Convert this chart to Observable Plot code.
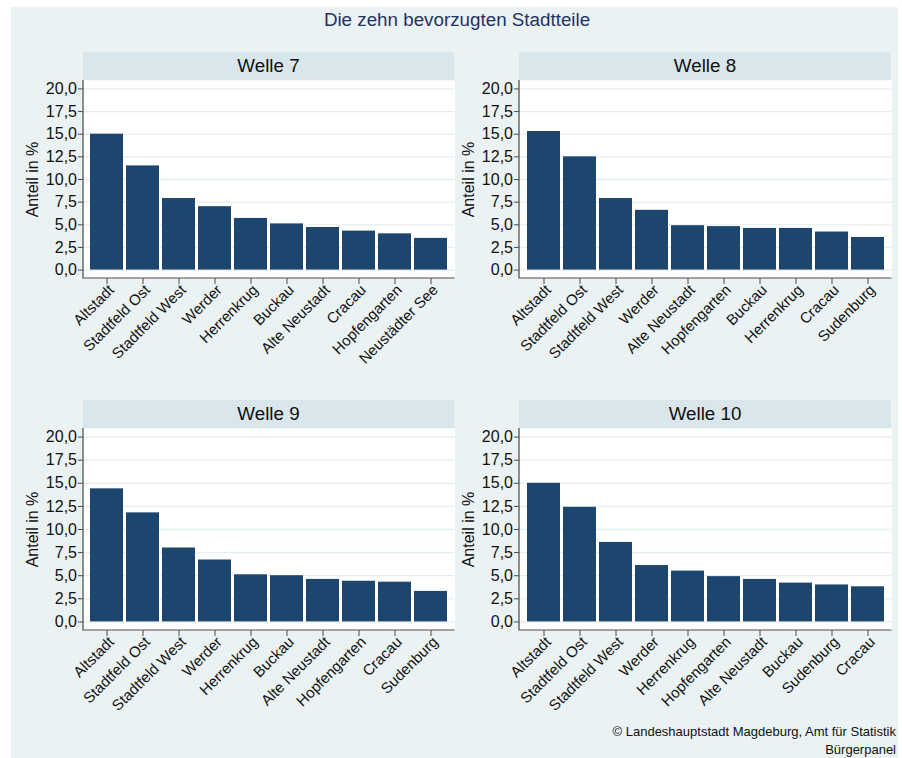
<!DOCTYPE html>
<html>
<head>
<meta charset="utf-8">
<script src="https://cdn.jsdelivr.net/npm/d3@7"></script>
<script src="https://cdn.jsdelivr.net/npm/@observablehq/plot@0.6"></script>
<style>
  body { margin: 0; background: #fff; }
  #chart { position: relative; width: 902px; height: 758px; background: #fff; overflow: hidden;
           font-family: "Liberation Sans", Arial, sans-serif; }
  #bg { position: absolute; left: 11px; top: 7px; width: 887px; height: 751px; background: #eaf2f3; }
  #title { position: absolute; left: 457px; top: 8px; transform: translateX(-50%); white-space: nowrap;
           font-size: 18.8px; color: #1f3464; line-height: 24px; }
  .hdr { position: absolute; height: 28px; line-height: 28px; text-align: center; background: #d9e6eb;
         font-size: 18.8px; color: #111; }
  .panel { position: absolute; }
  #caption { position: absolute; right: 6px; top: 723px; text-align: right; font-size: 13px; line-height: 18px; color: #111; }
</style>
</head>
<body>
<div id="chart">
  <div id="bg"></div>
  <div id="title">Die zehn bevorzugten Stadtteile</div>
  <div id="caption">© Landeshauptstadt Magdeburg, Amt für Statistik<br>Bürgerpanel</div>
</div>
<script>
// ---- data ----
const waves = ["Welle 7", "Welle 8", "Welle 9", "Welle 10"];

const districts7 = ["Altstadt", "Stadtfeld Ost", "Stadtfeld West", "Werder", "Herrenkrug", "Buckau", "Alte Neustadt", "Cracau", "Hopfengarten", "Neustädter See"];
const values7    = [15.0, 11.5, 7.9, 7.0, 5.7, 5.1, 4.7, 4.3, 4.0, 3.5];

const districts8 = ["Altstadt", "Stadtfeld Ost", "Stadtfeld West", "Werder", "Alte Neustadt", "Hopfengarten", "Buckau", "Herrenkrug", "Cracau", "Sudenburg"];
const values8    = [15.3, 12.5, 7.9, 6.6, 4.9, 4.8, 4.6, 4.6, 4.2, 3.6];

const districts9 = ["Altstadt", "Stadtfeld Ost", "Stadtfeld West", "Werder", "Herrenkrug", "Buckau", "Alte Neustadt", "Hopfengarten", "Cracau", "Sudenburg"];
const values9    = [14.4, 11.8, 8.0, 6.7, 5.1, 5.0, 4.6, 4.4, 4.3, 3.3];

const districts10 = ["Altstadt", "Stadtfeld Ost", "Stadtfeld West", "Werder", "Herrenkrug", "Hopfengarten", "Alte Neustadt", "Buckau", "Sudenburg", "Cracau"];
const values10    = [15.0, 12.4, 8.6, 6.1, 5.5, 4.9, 4.6, 4.2, 4.0, 3.8];

const yTicks = [0, 2.5, 5, 7.5, 10, 12.5, 15, 17.5, 20];
const yLabel = "Anteil in %";

// ---- layout ----
const panels = [
  {wave: waves[0], names: districts7,  values: values7,  axisX: 82.5, right: 454, top: 80,  h: 198},
  {wave: waves[1], names: districts8,  values: values8,  axisX: 518.5, right: 891, top: 80,  h: 198},
  {wave: waves[2], names: districts9,  values: values9,  axisX: 82.5, right: 454, top: 428, h: 202},
  {wave: waves[3], names: districts10, values: values10, axisX: 518.5, right: 891, top: 428, h: 202}
];

const fmt = d => d.toFixed(1).replace(".", ",");
const chart = document.getElementById("chart");
const ML = 72, MB = 110;

function axisLines(index, scales, values, dim) {
  const g = d3.create("svg:g").attr("stroke", "#4a4a4a").attr("stroke-width", 1.2).attr("fill", "none");
  const x0 = dim.marginLeft, x1 = dim.width - dim.marginRight;
  const y0 = dim.marginTop, y1 = dim.height - dim.marginBottom;
  g.append("path").attr("d", `M${x0},${y0}V${y1}H${x1}`);
  return g.node();
}

for (const p of panels) {
  const data = p.names.map((n, i) => ({name: n, value: p.values[i]}));
  const hdr = document.createElement("div");
  hdr.className = "hdr";
  hdr.style.left = (p.axisX + 0.5) + "px";
  hdr.style.width = (p.right - p.axisX - 0.5) + "px";
  hdr.style.top = (p.top - 28) + "px";
  hdr.textContent = p.wave;
  chart.appendChild(hdr);

  const width = ML + (p.right - p.axisX);
  const svg = Plot.plot({
    width,
    height: p.h + MB,
    marginLeft: ML,
    marginRight: 0,
    marginTop: 0,
    marginBottom: MB,
    style: {background: "transparent", fontFamily: "'Liberation Sans', Arial, sans-serif", fontSize: "15px", color: "#111", overflow: "visible"},
    x: {type: "band", domain: p.names, paddingInner: 0.09, paddingOuter: 0.08, label: null},
    y: {domain: [-0.93, 20.93], label: null},
    marks: [
      Plot.frame({fill: "white", stroke: null}),
      Plot.gridY(yTicks, {stroke: "#e4edf0", strokeOpacity: 1, strokeWidth: 1.3}),
      Plot.barY(data, {x: "name", y: "value", fill: "#1c466e"}),
      Plot.axisY(yTicks, {tickFormat: fmt, tickSize: 5, tickPadding: 1.5, fontSize: 16, stroke: "#4a4a4a", label: null}),
      Plot.axisX(p.names, {tickSize: 6, stroke: "#4a4a4a", text: null, label: null}),
      Plot.axisX(p.names, {tickRotate: -45, tickSize: 0, tickPadding: 8, fontSize: 15, dx: 4.5, dy: 1, label: null}),
      Plot.text([yLabel], {text: d => d, frameAnchor: "left", textAnchor: "middle", dx: -51, rotate: -90, fontSize: 16, fill: "#111"}),
      axisLines
    ]
  });
  svg.classList.add("panel");
  svg.style.left = (p.axisX - ML) + "px";
  svg.style.top = p.top + "px";
  chart.appendChild(svg);
}
</script>
</body>
</html>
